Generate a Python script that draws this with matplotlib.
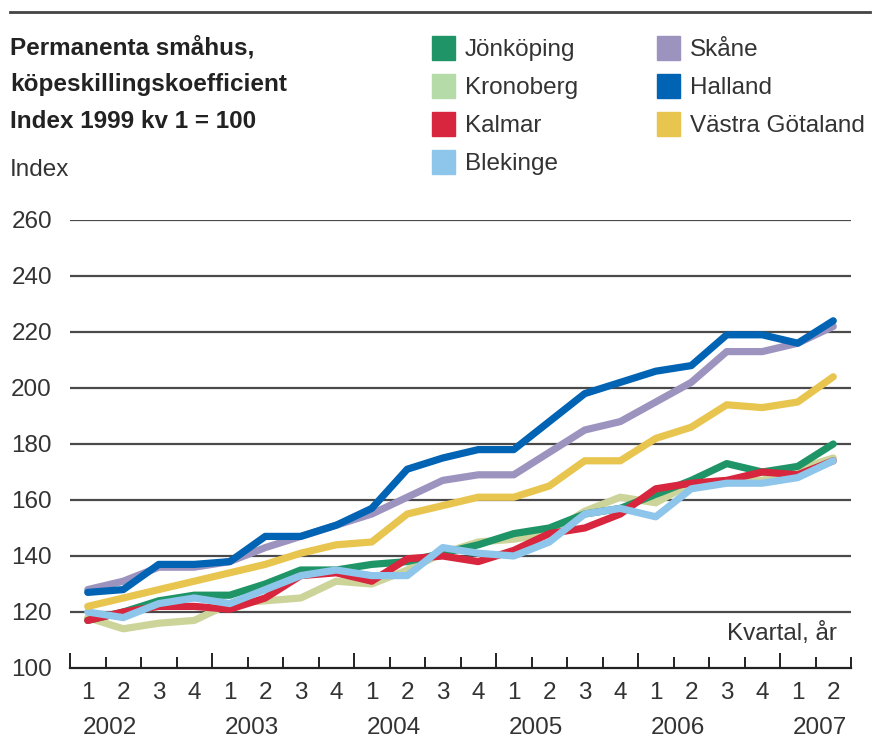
import matplotlib.pyplot as plt
import numpy as np
from matplotlib.lines import Line2D
from matplotlib.patches import Rectangle

plt.rcParams["font.family"] = ["Liberation Sans", "DejaVu Sans"]

# data: quarters 2002 Q1 .. 2007 Q2
years = ["2002", "2003", "2004", "2005", "2006", "2007"]
quarter_labels = ["1", "2", "3", "4"] * 5 + ["1", "2"]

kronoberg = [118, 114, 116, 117, 123, 124, 125, 131, 130, 135, 141, 145,
             146, 148, 156, 161, 159, 166, 167, 167, 171, 175]
jonkoping = [117, 120, 124, 126, 126, 130, 135, 135, 137, 138, 141, 144,
             148, 150, 155, 157, 162, 167, 173, 170, 172, 180]
kalmar = [117, 120, 122, 122, 121, 125, 133, 134, 131, 139, 140, 138,
          142, 148, 150, 155, 164, 166, 167, 170, 169, 174]
blekinge = [120, 118, 123, 125, 123, 128, 133, 135, 133, 133, 143, 141,
            140, 145, 155, 157, 154, 164, 166, 166, 168, 174]
vastra_gotaland = [122, 125, 128, 131, 134, 137, 141, 144, 145, 155, 158, 161,
                   161, 165, 174, 174, 182, 186, 194, 193, 195, 204]
skane = [128, 131, 136, 136, 138, 143, 147, 151, 155, 161, 167, 169,
         169, 177, 185, 188, 195, 202, 213, 213, 216, 222]
halland = [127, 128, 137, 137, 138, 147, 147, 151, 157, 171, 175, 178,
           178, 188, 198, 202, 206, 208, 219, 219, 216, 224]

# draw order (last on top)
series = [
    ("Kronoberg", kronoberg, "#cdd49a"),
    ("Jönköping", jonkoping, "#1f9467"),
    ("Kalmar", kalmar, "#d7263d"),
    ("Blekinge", blekinge, "#8ec5ea"),
    ("Västra Götaland", vastra_gotaland, "#e8c54f"),
    ("Skåne", skane, "#9d93bf"),
    ("Halland", halland, "#0063b4"),
]
legend_col1 = [("Jönköping", "#1f9467"), ("Kronoberg", "#b5dba8"),
               ("Kalmar", "#d7263d"), ("Blekinge", "#8ec5ea")]
legend_col2 = [("Skåne", "#9d93bf"), ("Halland", "#0063b4"),
               ("Västra Götaland", "#e8c54f")]

W, H = 880, 755
fig = plt.figure(figsize=(W / 100, H / 100), dpi=100)
ax = fig.add_axes([70 / W, 1 - 668 / H, 781 / W, 448 / H])

x = np.arange(len(halland))
for name, vals, col in series:
    ax.plot(x, vals, color=col, lw=5.2, solid_capstyle="round",
            solid_joinstyle="round", label=name)

ax.set_xlim(-0.5, len(x) - 0.5)
ax.set_ylim(100, 260)
ax.set_yticks(range(100, 261, 20))
for v in range(120, 261, 20):
    ax.axhline(v, color="#4a4a4a", lw=1.6, zorder=0)

for s in ["left", "right", "top"]:
    ax.spines[s].set_visible(False)
ax.spines["bottom"].set_color("#222222")
ax.spines["bottom"].set_linewidth(1.6)

ax.tick_params(axis="y", length=0, pad=13, labelsize=17.5, labelcolor="#333333")
ax.set_xticks(np.arange(-0.5, len(x), 4))
ax.set_xticks(np.arange(-0.5, len(x), 1), minor=True)
ax.set_xticklabels([])
ax.tick_params(axis="x", which="major", direction="in", length=11, width=1.4,
               color="#222222")
ax.tick_params(axis="x", which="minor", direction="in", length=8, width=1.4,
               color="#222222")

tr = ax.get_xaxis_transform()
for i, q in enumerate(quarter_labels):
    ax.text(i, -0.055, q, transform=tr, ha="center", va="center",
            fontsize=17.5, color="#333333")
for k, yr in enumerate(years):
    ax.text(4 * k - 0.15, -0.133, yr, transform=tr, ha="left", va="center",
            fontsize=17.5, color="#333333")
ax.text(len(x) - 0.9, 0.077, "Kvartal, år", transform=tr, ha="right",
        va="center", fontsize=17.5, color="#333333")

# header
fig.add_artist(Line2D([10 / W, 870 / W], [1 - 12 / H, 1 - 12 / H],
                      color="#444444", lw=2))
for j, t in enumerate(["Permanenta småhus,", "köpeskillingskoefficient",
                       "Index 1999 kv 1 = 100"]):
    fig.text(10 / W, 1 - (48 + 37 * j) / H, t, ha="left", va="center",
             fontsize=17.5, fontweight="bold", color="#222222")
fig.text(10 / W, 1 - 170 / H, "Index", ha="left", va="center",
         fontsize=17.5, color="#333333")

# legend
for cx, entries in [(432, legend_col1), (657, legend_col2)]:
    for j, (name, col) in enumerate(entries):
        cy = 48 + 38 * j
        fig.add_artist(Rectangle((cx / W, 1 - (cy + 12) / H), 23 / W, 24 / H,
                                 color=col, transform=fig.transFigure))
        fig.text((cx + 33) / W, 1 - (cy + 2) / H, name, ha="left", va="center",
                 fontsize=17.5, color="#333333")

fig.savefig("out.png", dpi=100)
